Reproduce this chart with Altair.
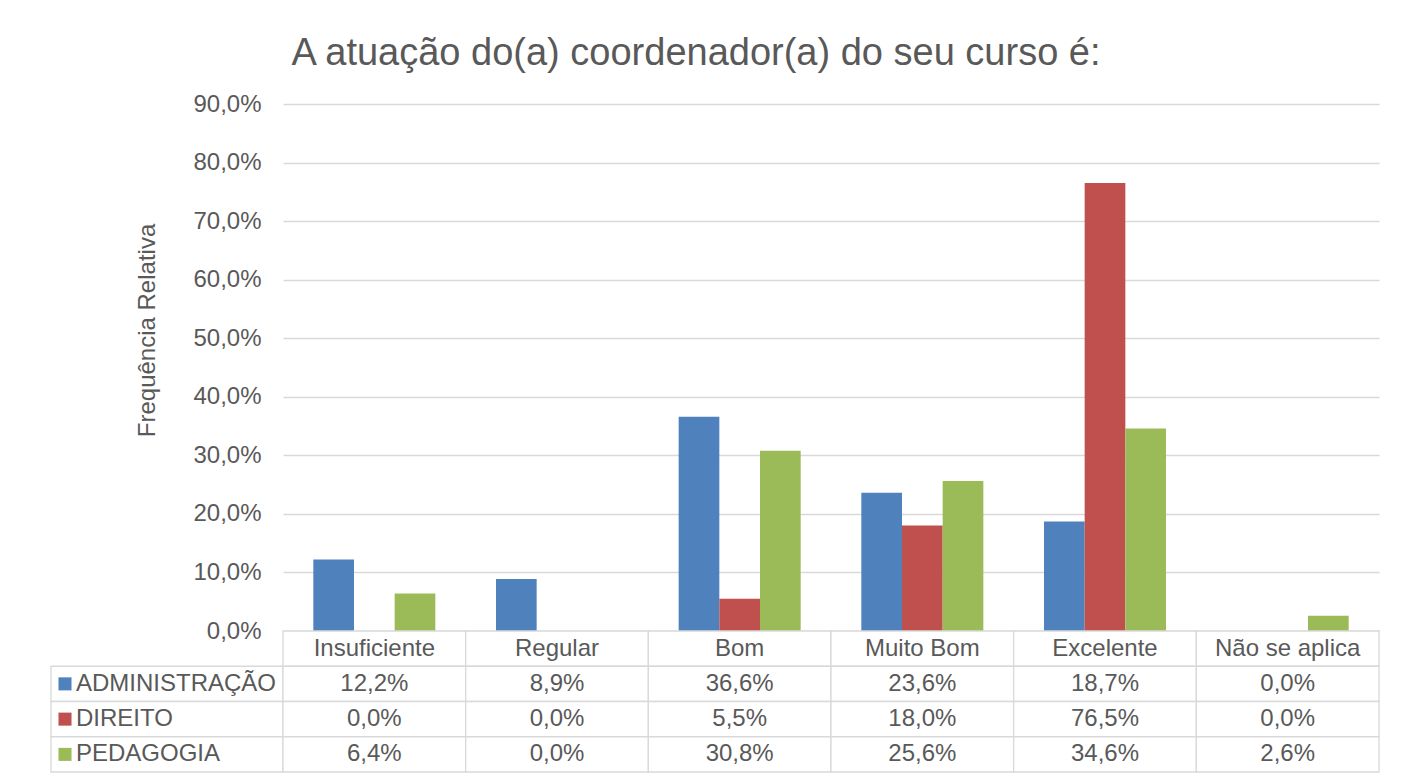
import altair as alt
import pandas as pd

# ---- data ----
categories = ["Insuficiente", "Regular", "Bom", "Muito Bom", "Excelente", "Não se aplica"]
series_names = ["ADMINISTRAÇÃO", "DIREITO", "PEDAGOGIA"]
admin = [12.2, 8.9, 36.6, 23.6, 18.7, 0.0]
direito = [0.0, 0.0, 5.5, 18.0, 76.5, 0.0]
pedagogia = [6.4, 0.0, 30.8, 25.6, 34.6, 2.6]
colors = ["#4F81BD", "#C0504D", "#9BBB59"]
y_ticks = [0, 10, 20, 30, 40, 50, 60, 70, 80, 90]
title_text = "A atuação do(a) coordenador(a) do seu curso é:"
y_title = "Frequência Relativa"

FONT = "Liberation Sans"
TXT = "#595959"
GRID = "#D9D9D9"

values = {"ADMINISTRAÇÃO": admin, "DIREITO": direito, "PEDAGOGIA": pedagogia}
rows = []
for s in series_names:
    for c, v in zip(categories, values[s]):
        rows.append({"cat": c, "series": s, "value": v,
                     "label": f"{v:.1f}%".replace(".", ","), "row": s})
df = pd.DataFrame(rows)
hdr = pd.DataFrame({"cat": categories, "series": ["hdr"] * len(categories),
                    "value": [0] * len(categories), "label": categories,
                    "row": ["hdr"] * len(categories)})
table_df = pd.concat([hdr, df], ignore_index=True)
leg_df = pd.DataFrame({"series": series_names, "row": series_names, "label": series_names})

PLOT_W, PLOT_H = 1096, 527
LEG_W, TAB_H = 232, 141
row_order = ["hdr"] + series_names

color_scale = alt.Scale(domain=series_names, range=colors)
row_scale = alt.Scale(domain=row_order, paddingInner=0, paddingOuter=0)
cat_x_table = alt.X("cat:N", sort=categories, axis=None,
                    scale=alt.Scale(paddingInner=0, paddingOuter=0))

# ---- bar chart ----
bars = alt.Chart(df).mark_bar().encode(
    x=alt.X("cat:N", sort=categories, axis=None,
            scale=alt.Scale(paddingInner=0.332, paddingOuter=0.166)),
    xOffset=alt.XOffset("series:N", sort=series_names,
                        scale=alt.Scale(paddingInner=0, paddingOuter=0)),
    y=alt.Y("value:Q",
            scale=alt.Scale(domain=[0, 90], nice=False),
            axis=alt.Axis(values=y_ticks, title=y_title,
                          labelExpr="replace(format(datum.value, '.1f'), '.', ',') + '%'",
                          labelFont=FONT, labelFontSize=24, labelColor=TXT,
                          labelPadding=22, ticks=False, domain=False,
                          gridColor=GRID, gridWidth=1.3,
                          titleFont=FONT, titleFontSize=24, titleColor=TXT,
                          titleFontWeight="normal", titlePadding=33,
                          titleY=226)),
    color=alt.Color("series:N", scale=color_scale, legend=None),
).properties(width=PLOT_W, height=PLOT_H)

spacer = alt.Chart(pd.DataFrame({"s": [0]})).mark_text(text="").properties(
    width=LEG_W, height=PLOT_H)

# ---- table (category columns) ----
cells = alt.Chart(table_df).mark_rect(fill="white", stroke=GRID, strokeWidth=1.3).encode(
    x=cat_x_table,
    y=alt.Y("row:N", scale=row_scale, axis=None),
)
cell_text = alt.Chart(table_df).mark_text(font=FONT, fontSize=24, color=TXT,
                                          baseline="middle").encode(
    x=cat_x_table,
    y=alt.Y("row:N", scale=row_scale, axis=None),
    text="label:N",
)
table = alt.layer(cells, cell_text).properties(width=PLOT_W, height=TAB_H)

# ---- table legend column ----
leg_cells = alt.Chart(leg_df).mark_rect(fill="white", stroke=GRID, strokeWidth=1.3).encode(
    x=alt.value(0), x2=alt.value(LEG_W),
    y=alt.Y("row:N", scale=row_scale, axis=None),
)
leg_sq = alt.Chart(leg_df).mark_square(size=170, opacity=1).encode(
    x=alt.value(14),
    y=alt.Y("row:N", scale=row_scale, axis=None),
    color=alt.Color("series:N", scale=color_scale, legend=None),
)
leg_txt = alt.Chart(leg_df).mark_text(font=FONT, fontSize=24, color=TXT, align="left",
                                      baseline="middle").encode(
    x=alt.value(25),
    y=alt.Y("row:N", scale=row_scale, axis=None),
    text="label:N",
)
legend_col = alt.layer(leg_cells, leg_sq, leg_txt).properties(width=LEG_W, height=TAB_H)

chart = alt.concat(spacer, bars, legend_col, table, columns=2, spacing=0,
                   bounds="flush").properties(
    title=alt.TitleParams(title_text, font=FONT, fontSize=38, color=TXT,
                          fontWeight="normal", anchor="middle", dx=-19, offset=19),
    padding={"left": 42, "top": 27, "right": 10, "bottom": 5},
).configure(background="white").configure_view(stroke=None)

chart.save("out.html", embed_options={"renderer": "svg", "actions": False})
